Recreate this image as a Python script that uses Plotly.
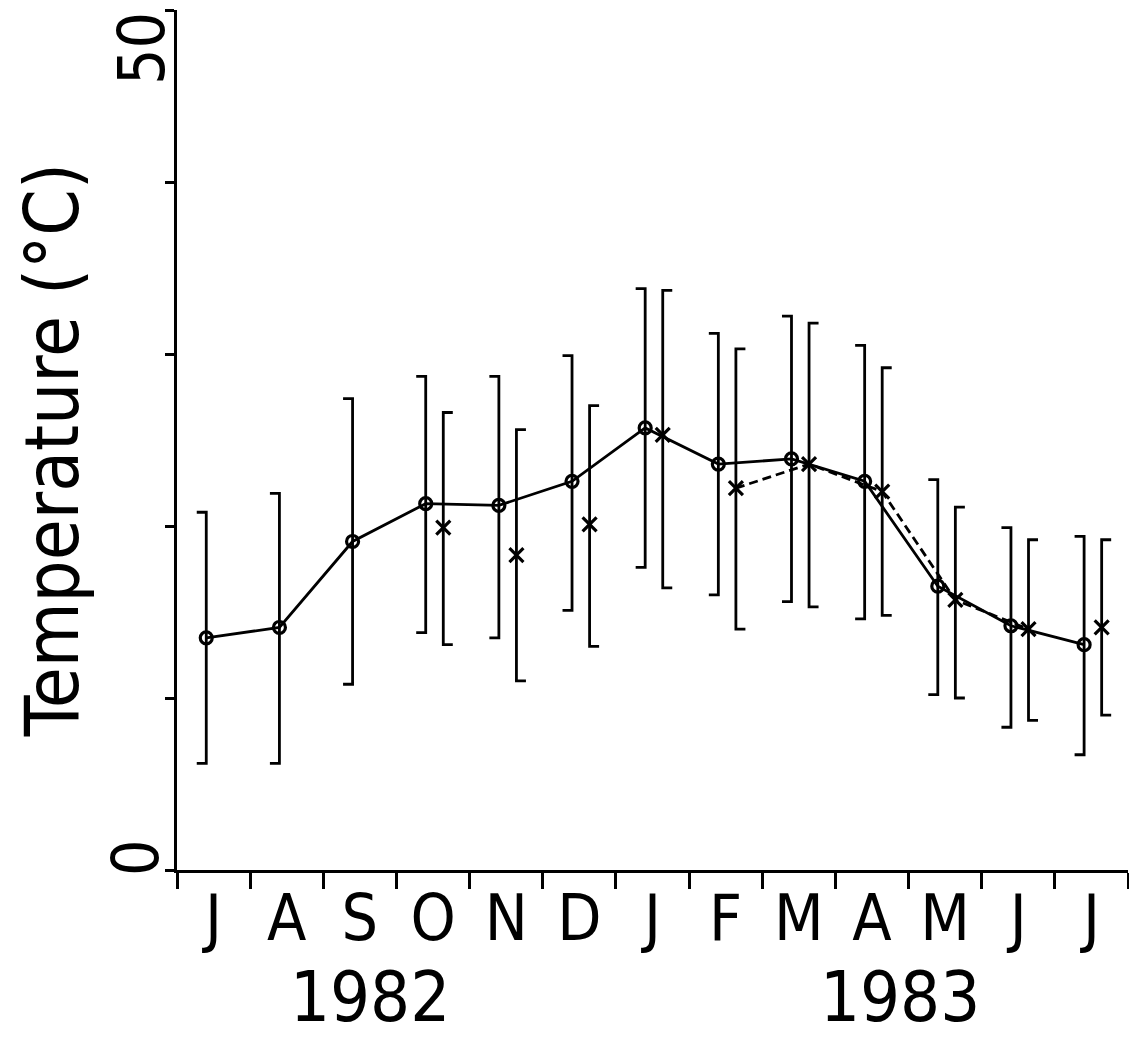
import plotly.graph_objects as go

# Monthly temperature, July 1982 - July 1983
months = ["J", "A", "S", "O", "N", "D", "J", "F", "M", "A", "M", "J", "J"]
years = ["1982", "1983"]

# Series 1 (open circles, solid line): mean with upper / lower range
circ_mean = [13.5, 14.1, 19.1, 21.3, 21.2, 22.6, 25.7, 23.6, 23.9, 22.6, 16.5, 14.2, 13.1]
circ_high = [20.8, 21.9, 27.4, 28.7, 28.7, 29.9, 33.8, 31.2, 32.2, 30.5, 22.7, 19.9, 19.4]
circ_low = [6.2, 6.2, 10.8, 13.8, 13.5, 15.1, 17.6, 16.0, 15.6, 14.6, 10.2, 8.3, 6.7]

# Series 2 (crosses, dashed line Feb-Jun): mean with upper / lower range
cross_mean = [None, None, None, 19.9, 18.3, 20.1, 25.3, 22.2, 23.6, 22.0, 15.7, 14.0, 14.1]
cross_high = [None, None, None, 26.6, 25.6, 27.0, 33.7, 30.3, 31.8, 29.2, 21.1, 19.2, 19.2]
cross_low = [None, None, None, 13.1, 11.0, 13.0, 16.4, 14.0, 15.3, 14.8, 10.0, 8.7, 9.0]

FONT = "Liberation Sans Narrow, DejaVu Sans Condensed, Arial Narrow, Liberation Sans, sans-serif"
INK = "black"
LW = 2.8
CIRC_SHIFT = -0.1   # circles sit a little left of the month centre
CROSS_SHIFT = 0.14  # crosses sit a little right of it
CAP = 0.13          # half-bracket cap length, in months

idx = list(range(len(months)))
xc = [i + CIRC_SHIFT for i in idx]
xx = [i + CROSS_SHIFT for i in idx]


def bracket_path(xs, hi, lo, direction):
    """Vertical range bars with caps on one side only ('[' or ']')."""
    px, py = [], []
    for x, h, l in zip(xs, hi, lo):
        if h is None or l is None:
            continue
        cx = x + direction * CAP
        px += [cx, x, x, cx, None]
        py += [h, h, l, l, None]
    return px, py


fig = go.Figure()

bx, by = bracket_path(xc, circ_high, circ_low, -1)
fig.add_trace(go.Scatter(x=bx, y=by, mode="lines", line=dict(color=INK, width=LW),
                         showlegend=False, hoverinfo="skip"))
bx, by = bracket_path(xx, cross_high, cross_low, +1)
fig.add_trace(go.Scatter(x=bx, y=by, mode="lines", line=dict(color=INK, width=LW),
                         showlegend=False, hoverinfo="skip"))

# dashed line joining the crosses from February to June
fig.add_trace(go.Scatter(x=xx[7:12], y=cross_mean[7:12], mode="lines",
                         line=dict(color=INK, width=LW, dash="9px,5px"),
                         showlegend=False, hoverinfo="skip"))

# solid line with open circles
fig.add_trace(go.Scatter(x=xc, y=circ_mean, mode="lines+markers",
                         line=dict(color=INK, width=LW),
                         marker=dict(symbol="circle-open", size=12, color=INK,
                                     line=dict(width=3.2, color=INK)),
                         showlegend=False))

# crosses
fig.add_trace(go.Scatter(x=xx, y=cross_mean, mode="markers",
                         marker=dict(symbol="x-thin-open", size=14, color=INK,
                                     line=dict(width=3.2, color=INK)),
                         showlegend=False))

fig.update_xaxes(range=[-0.5, 12.5], tickmode="array", tickvals=idx, ticktext=months,
                 ticks="", showline=True, linecolor=INK, linewidth=3,
                 showgrid=False, zeroline=False,
                 tickfont=dict(family=FONT, size=64, color=INK),
                 ticklabelstandoff=-10,
                 minor=dict(tick0=-0.5, dtick=1, ticks="outside", ticklen=16,
                            tickwidth=3, tickcolor=INK, showgrid=False))

fig.update_yaxes(range=[0, 50], tickmode="array", tickvals=[0, 10, 20, 30, 40, 50],
                 showticklabels=False, ticks="outside", ticklen=9, tickwidth=3,
                 tickcolor=INK, showline=True, linecolor=INK, linewidth=3,
                 showgrid=False, zeroline=False)

label_font = dict(family=FONT, size=64, color=INK)
annotations = [
    dict(text="0", x=0, xref="paper", y=0, yref="y", xshift=-41, yshift=12,
         xanchor="center", yanchor="middle", textangle=-90, showarrow=False,
         font=label_font),
    dict(text="50", x=0, xref="paper", y=50, yref="y", xshift=-35, yshift=-39,
         xanchor="center", yanchor="middle", textangle=-90, showarrow=False,
         font=label_font),
    dict(text="Temperature (°C)", x=0, xref="paper", y=0.488, yref="paper", xshift=-125,
         xanchor="center", yanchor="middle", textangle=-90, showarrow=False,
         font=dict(family=FONT, size=74, color=INK)),
    dict(text=years[0], x=2.14, xref="x", y=0, yref="paper", yshift=-127,
         xanchor="center", yanchor="middle", showarrow=False,
         font=dict(family=FONT, size=70, color=INK)),
    dict(text=years[1], x=9.38, xref="x", y=0, yref="paper", yshift=-127,
         xanchor="center", yanchor="middle", showarrow=False,
         font=dict(family=FONT, size=70, color=INK)),
]

fig.update_layout(width=1129, height=1042, margin=dict(l=177, r=1, t=10, b=172),
                  paper_bgcolor="white", plot_bgcolor="white",
                  annotations=annotations, showlegend=False)

fig.write_html("out.html")
